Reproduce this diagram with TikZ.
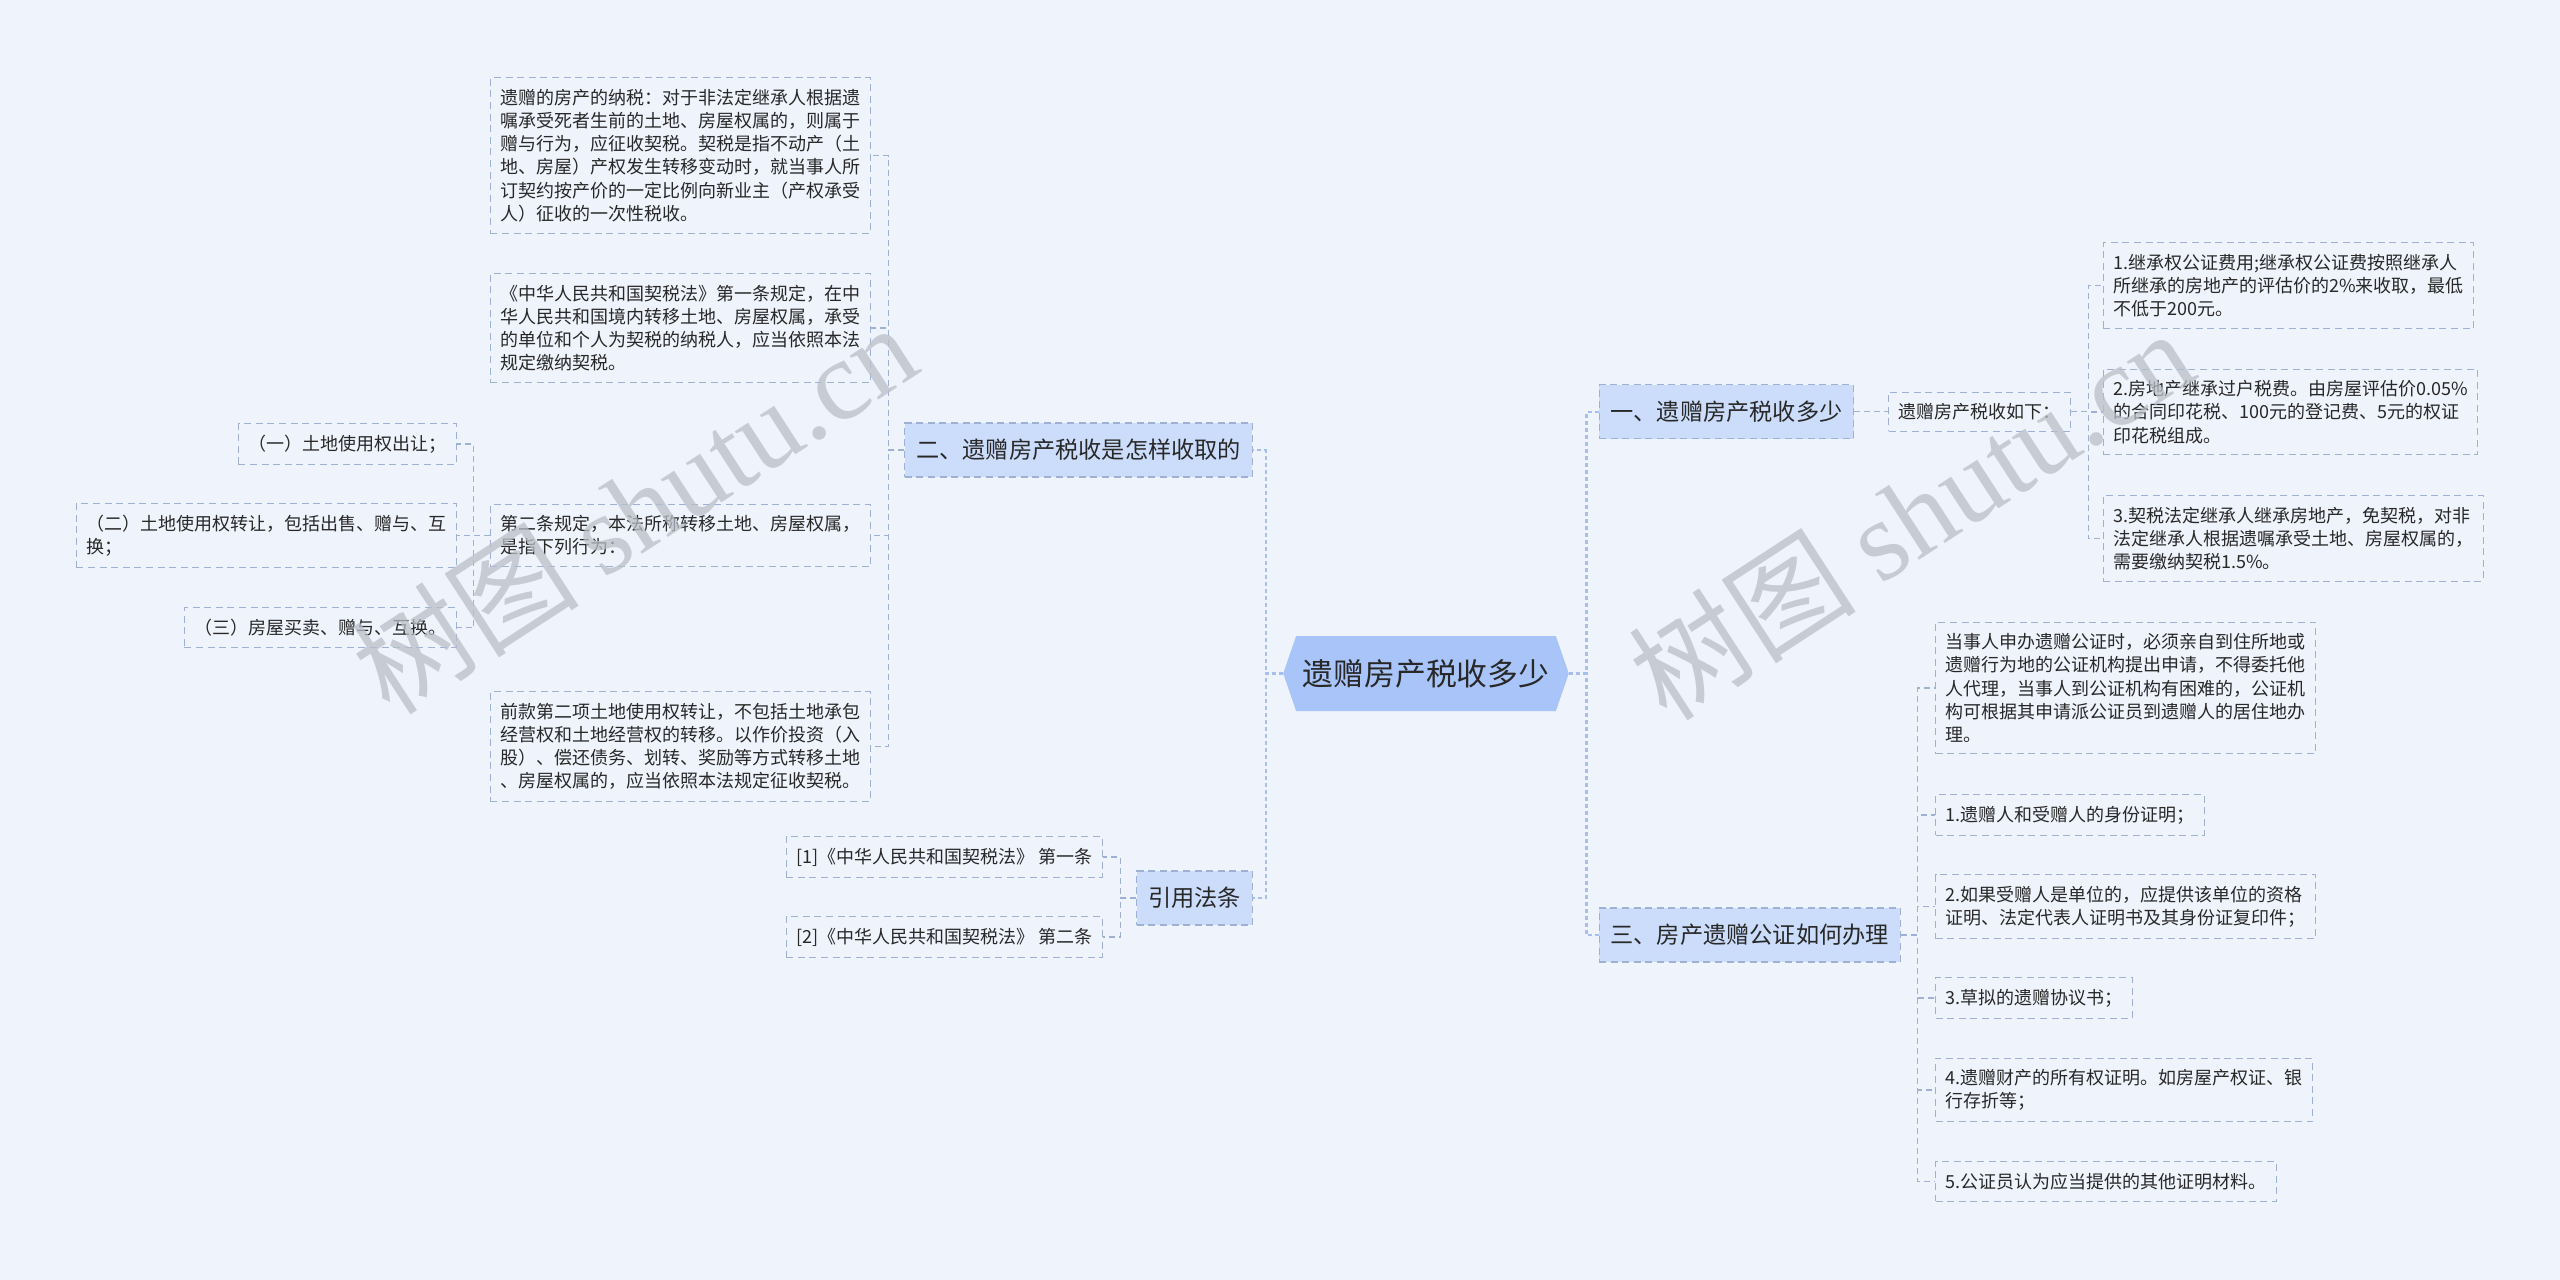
\documentclass[tikz,border=0pt]{standalone}
\usepackage{fontspec}
\setmainfont{Noto Sans CJK SC}
\newfontfamily\wmserif{Liberation Serif}
\usetikzlibrary{shapes.symbols}
\definecolor{bgC}{RGB}{239,243,251}
\definecolor{rootFill}{RGB}{168,196,248}
\definecolor{brFill}{RGB}{204,221,251}
\definecolor{boxLine}{RGB}{158,176,212}
\definecolor{spineC}{RGB}{166,190,240}
\definecolor{txtC}{RGB}{40,40,40}
\definecolor{wmC}{RGB}{186,191,200}

\tikzset{
	leaf/.style={draw=boxLine,dash pattern=on 3.5pt off 2.3pt,line width=0.55pt,text=txtC,
		align=left,font=\fontsize{9pt}{11.6pt}\selectfont,inner xsep=5pt,inner ysep=5.6pt},
	branch/.style={leaf,fill=brFill,font=\fontsize{11.6pt}{14pt}\selectfont,inner xsep=5.7pt,minimum height=27pt},
	root/.style={shape=signal,signal to=east and west,signal pointer angle=142,fill=rootFill,
		text=txtC,font=\fontsize{15.4pt}{18pt}\selectfont,minimum width=140pt,minimum height=37.5pt},
	link/.style={draw=boxLine,dash pattern=on 3pt off 2pt,line width=0.55pt},
	spine/.style={draw=spineC,dash pattern=on 2pt off 1.5pt,line width=1.3pt},
	wm/.style={text=wmC,opacity=0.75,rotate=33,font=\fontsize{57pt}{60pt}\selectfont}
}

\begin{document}
\begin{tikzpicture}[x=0.5pt,y=-0.5pt]
	\fill[bgC] (0,0) rectangle (2560,1280);
	\useasboundingbox (0,0) rectangle (2560,1280);

	\draw (1426,673.5) node(root) [root] {遗赠房产税收多少};

	\draw (1253,450) node(b2) [branch,anchor=east] {二、遗赠房产税收是怎样收取的};
	\draw (1253,898) node(b4) [branch,anchor=east] {引用法条};
	\draw (1598.5,411.8) node(b1) [branch,anchor=west] {一、遗赠房产税收多少};
	\draw (1598.5,935) node(b3) [branch,anchor=west] {三、房产遗赠公证如何办理};

	\draw (871,155.5) node(sA) [leaf,anchor=east] {遗赠的房产的纳税：对于非法定继承人根据遗\\嘱承受死者生前的土地、房屋权属的，则属于\\赠与行为，应征收契税。契税是指不动产（土\\地、房屋）产权发生转移变动时，就当事人所\\订契约按产价的一定比例向新业主（产权承受\\人）征收的一次性税收。};
	\draw (871,328) node(sB) [leaf,anchor=east] {《中华人民共和国契税法》第一条规定，在中\\华人民共和国境内转移土地、房屋权属，承受\\的单位和个人为契税的纳税人，应当依照本法\\规定缴纳契税。};
	\draw (871,535.5) node(sC) [leaf,anchor=east] {第二条规定，本法所称转移土地、房屋权属，\\是指下列行为：};
	\draw (871,746.5) node(sD) [leaf,anchor=east] {前款第二项土地使用权转让，不包括土地承包\\经营权和土地经营权的转移。以作价投资（入\\股）、偿还债务、划转、奖励等方式转移土地\\、房屋权属的，应当依照本法规定征收契税。};

	\draw (457,444) node(c1) [leaf,anchor=east] {（一）土地使用权出让；};
	\draw (457,535.5) node(c2) [leaf,anchor=east] {（二）土地使用权转让，包括出售、赠与、互\\换；};
	\draw (457,627.5) node(c3) [leaf,anchor=east] {（三）房屋买卖、赠与、互换。};

	\draw (1103,857) node(r1) [leaf,anchor=east] {[1]《中华人民共和国契税法》 第一条};
	\draw (1103,937) node(r2) [leaf,anchor=east] {[2]《中华人民共和国契税法》 第二条};

	\draw (1888,411.8) node(m1) [leaf,anchor=west] {遗赠房产税收如下：};
	\draw (2102.5,285.5) node(t1) [leaf,anchor=west] {1.继承权公证费用;继承权公证费按照继承人\\所继承的房地产的评估价的2\%来收取，最低\\不低于200元。};
	\draw (2102.5,412) node(t2) [leaf,anchor=west] {2.房地产继承过户税费。由房屋评估价0.05\%\\的合同印花税、100元的登记费、5元的权证\\印花税组成。};
	\draw (2102.5,538.5) node(t3) [leaf,anchor=west] {3.契税法定继承人继承房地产，免契税，对非\\法定继承人根据遗嘱承受土地、房屋权属的，\\需要缴纳契税1.5\%。};

	\draw (1935,688) node(u0) [leaf,anchor=west] {当事人申办遗赠公证时，必须亲自到住所地或\\遗赠行为地的公证机构提出申请，不得委托他\\人代理，当事人到公证机构有困难的，公证机\\构可根据其申请派公证员到遗赠人的居住地办\\理。};
	\draw (1935,815) node(u1) [leaf,anchor=west] {1.遗赠人和受赠人的身份证明；};
	\draw (1935,906.7) node(u2) [leaf,anchor=west] {2.如果受赠人是单位的，应提供该单位的资格\\证明、法定代表人证明书及其身份证复印件；};
	\draw (1935,998) node(u3) [leaf,anchor=west] {3.草拟的遗赠协议书；};
	\draw (1935,1090) node(u4) [leaf,anchor=west] {4.遗赠财产的所有权证明。如房屋产权证、银\\行存折等；};
	\draw (1935,1181.5) node(u5) [leaf,anchor=west] {5.公证员认为应当提供的其他证明材料。};

	\draw[spine] (root.west) -- ++(-17,0) |- (b2.east);
	\draw[spine] (root.west) -- ++(-17,0) |- (b4.east);
	\draw[spine] (root.east) -- ++(17,0) |- (b1.west);
	\draw[spine] (root.east) -- ++(17,0) |- (b3.west);

	\foreach \n in {sA,sB,sC,sD}
		\draw[link] (b2.west) -- ++(-16,0) |- (\n.east);
	\foreach \n in {c1,c2,c3}
		\draw[link] (sC.west) -- ++(-16,0) |- (\n.east);
	\foreach \n in {r1,r2}
		\draw[link] (b4.west) -- ++(-16,0) |- (\n.east);
	\draw[link] (b1.east) -- (m1.west);
	\foreach \n in {t1,t2,t3}
		\draw[link] (m1.east) -- ++(17,0) |- (\n.west);
	\foreach \n in {u0,u1,u2,u3,u4,u5}
		\draw[link] (b3.east) -- ++(17,0) |- (\n.west);

	\node (wm1) [wm] at (634,508) {树图 {\wmserif shutu.cn}};
	\node (wm2) [wm] at (1911,514) {树图 {\wmserif shutu.cn}};
\end{tikzpicture}
\end{document}
